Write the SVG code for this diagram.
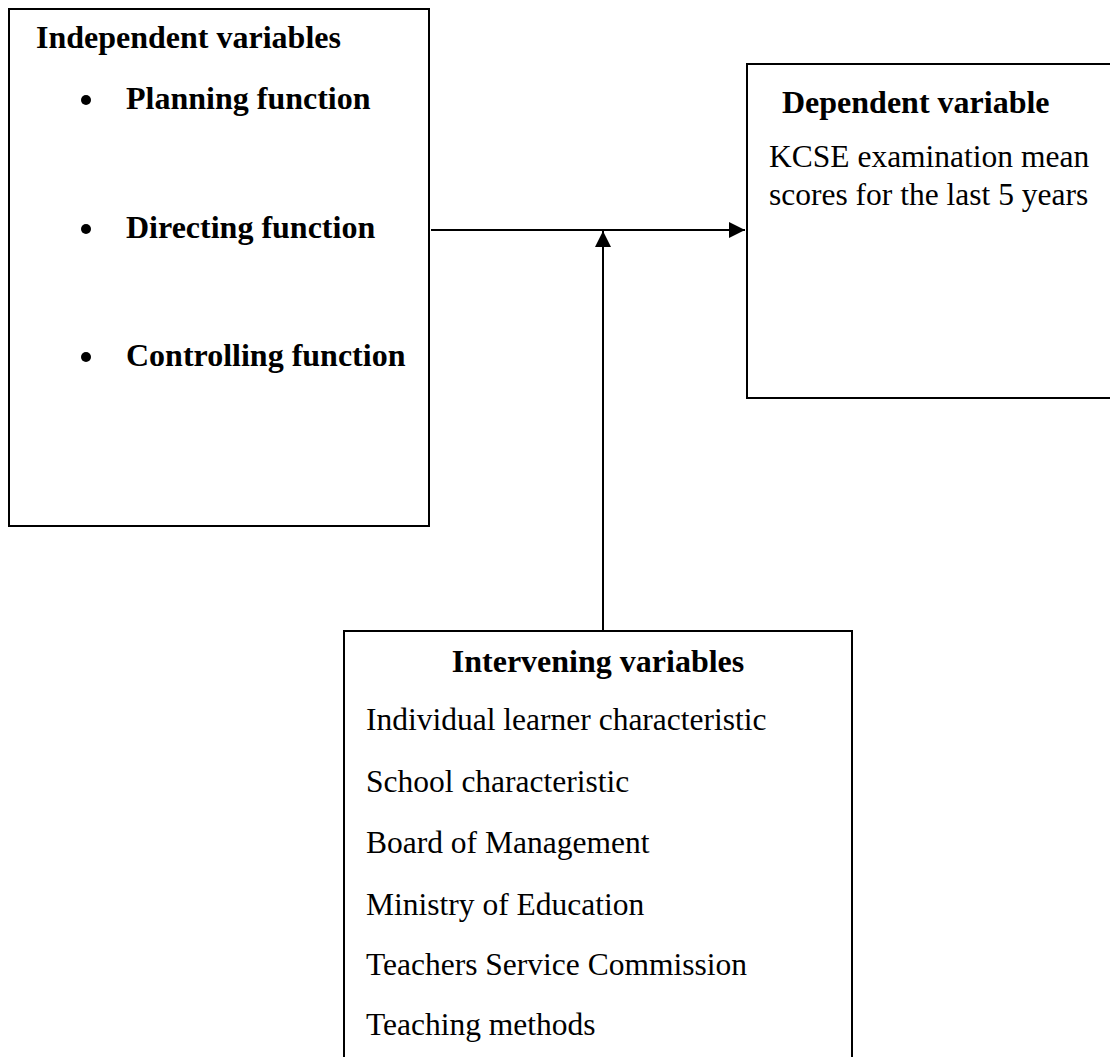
<svg xmlns="http://www.w3.org/2000/svg" width="1110" height="1057" viewBox="0 0 1110 1057">
<style>
.box{fill:#fff;stroke:#000;stroke-width:2}
.b{font-family:"Liberation Serif","Times New Roman",serif;font-weight:bold;font-size:32px;fill:#000}
.r{font-family:"Liberation Serif","Times New Roman",serif;font-size:31.5px;fill:#000}
.c{fill:none;stroke:#000;stroke-width:2}
</style>
<defs>
<marker id="ah" viewBox="0 0 10 10" refX="10" refY="5" markerWidth="16" markerHeight="16" markerUnits="userSpaceOnUse" orient="auto">
<path d="M0,0 L10,5 L0,10 Z" fill="#000"/>
</marker>
</defs>
<rect width="1110" height="1057" fill="#fff"/>
<g id="independent">
<rect class="box" x="9" y="9" width="420" height="517"/>
<text class="b" x="36" y="48">Independent variables</text>
<circle cx="86" cy="100" r="5"/>
<text class="b" x="126" y="109">Planning function</text>
<circle cx="86" cy="229" r="5"/>
<text class="b" x="126" y="238">Directing function</text>
<circle cx="86" cy="357" r="5"/>
<text class="b" x="126" y="366">Controlling function</text>
</g>
<g id="dependent">
<rect class="box" x="747" y="64" width="380" height="334"/>
<text class="b" x="782" y="113">Dependent variable</text>
<text class="r" x="769" y="167">KCSE examination mean</text>
<text class="r" x="769" y="205">scores for the last 5 years</text>
</g>
<g id="intervening">
<rect class="box" x="344" y="631" width="508" height="440"/>
<text class="b" x="598" y="672" text-anchor="middle">Intervening variables</text>
<text class="r" x="366" y="730">Individual learner characteristic</text>
<text class="r" x="366" y="792">School characteristic</text>
<text class="r" x="366" y="853">Board of Management</text>
<text class="r" x="366" y="915">Ministry of Education</text>
<text class="r" x="366" y="975">Teachers Service Commission</text>
<text class="r" x="366" y="1035">Teaching methods</text>
</g>
<g id="connectors">
<line class="c" x1="431" y1="230" x2="745" y2="230" marker-end="url(#ah)"/>
<line class="c" x1="603" y1="631" x2="603" y2="231" marker-end="url(#ah)"/>
</g>
</svg>
